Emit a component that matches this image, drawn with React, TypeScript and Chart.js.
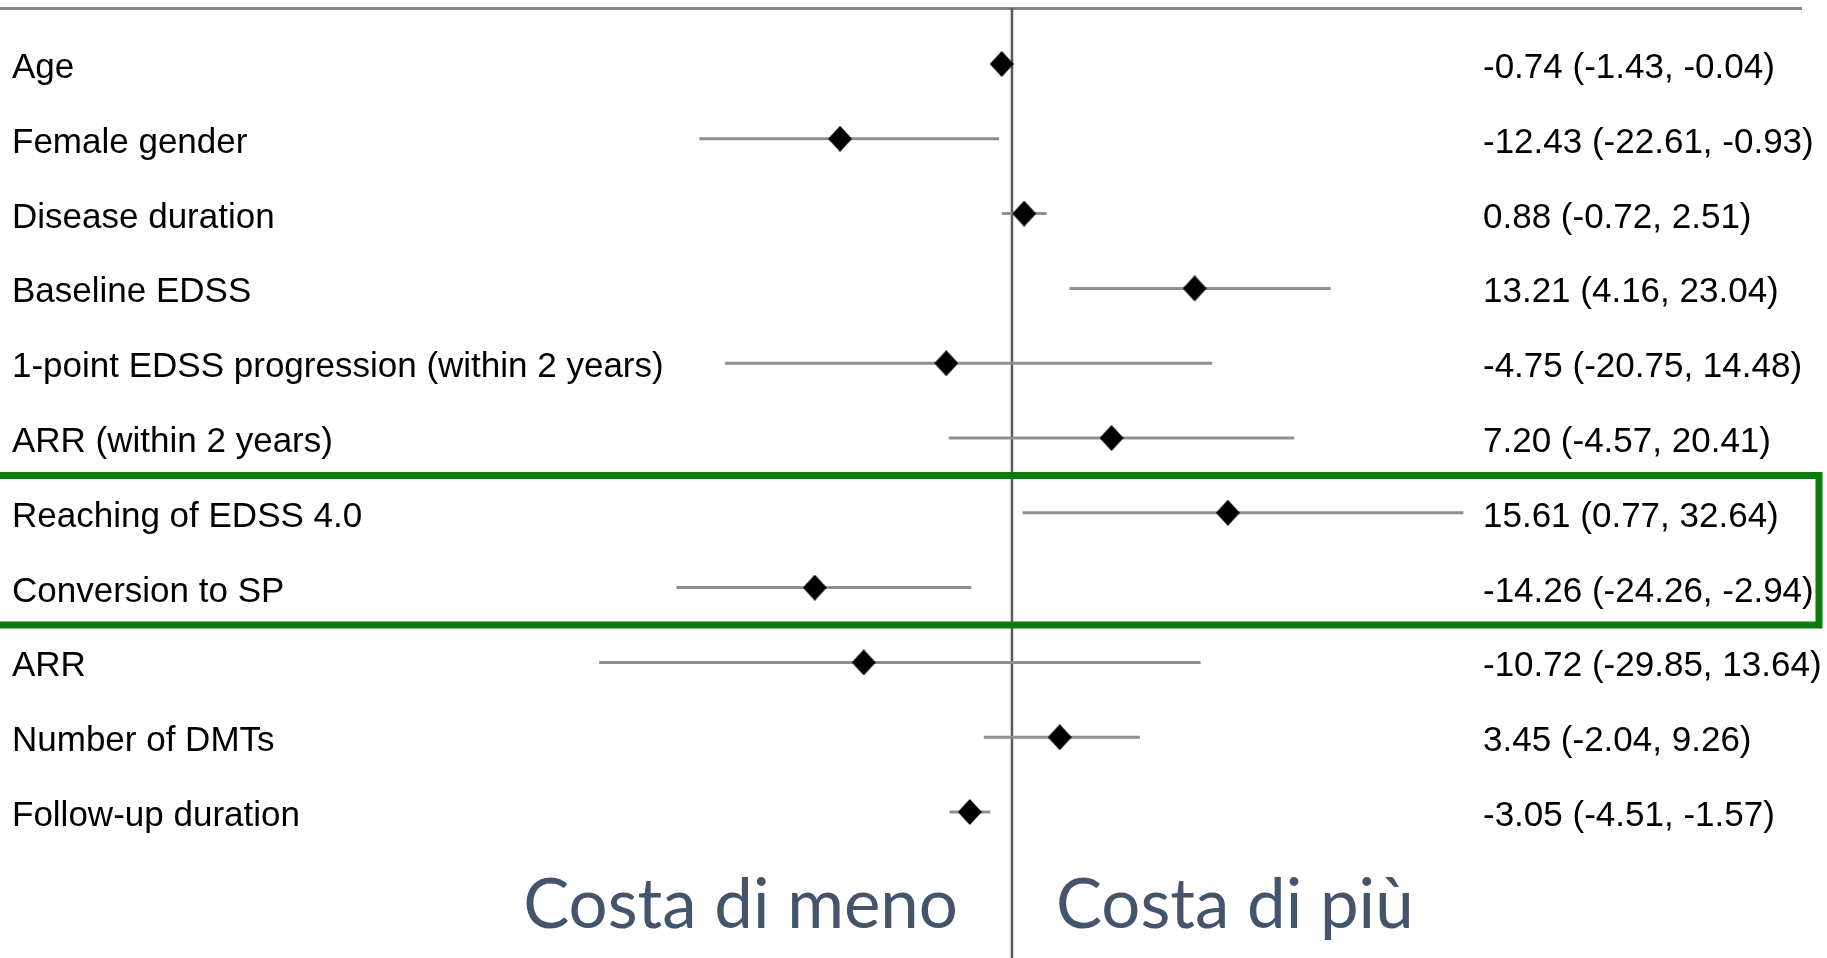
import React, { useEffect, useRef } from "react";
import { Chart, registerables } from "chart.js";

Chart.register(...registerables);

const categories = [
  "Age",
  "Female gender",
  "Disease duration",
  "Baseline EDSS",
  "1-point EDSS progression (within 2 years)",
  "ARR (within 2 years)",
  "Reaching of EDSS 4.0",
  "Conversion to SP",
  "ARR",
  "Number of DMTs",
  "Follow-up duration",
];
const estimates = [-0.74, -12.43, 0.88, 13.21, -4.75, 7.2, 15.61, -14.26, -10.72, 3.45, -3.05];
const lower = [-1.43, -22.61, -0.72, 4.16, -20.75, -4.57, 0.77, -24.26, -29.85, -2.04, -4.51];
const upper = [-0.04, -0.93, 2.51, 23.04, 14.48, 20.41, 32.64, -2.94, 13.64, 9.26, -1.57];
const highlighted = ["Reaching of EDSS 4.0", "Conversion to SP"];
const sideLabels = ["Costa di meno", "Costa di più"];

const W = 1827;
const H = 958;

function makeDiamond(w: number, h: number) {
  const c = document.createElement("canvas");
  c.width = w;
  c.height = h;
  const ctx = c.getContext("2d")!;
  ctx.fillStyle = "#000";
  ctx.beginPath();
  ctx.moveTo(w / 2, 0);
  ctx.lineTo(w, h / 2);
  ctx.lineTo(w / 2, h);
  ctx.lineTo(0, h / 2);
  ctx.closePath();
  ctx.fill();
  return c;
}

const fmt = (v: number) => v.toFixed(2);

export default function App() {
  const ref = useRef<HTMLCanvasElement>(null);

  useEffect(() => {
    const canvas = ref.current!;
    const diamond = makeDiamond(24, 26);

    const ciDatasets = categories.map((c, i) => ({
      type: "scatter" as const,
      label: c + " CI",
      data: [
        { x: lower[i], y: i },
        { x: upper[i], y: i },
      ],
      showLine: true,
      borderColor: "#8f8f8f",
      borderWidth: 3,
      pointRadius: 0,
      order: 2,
    }));

    const overlay = {
      id: "forestOverlay",
      beforeDatasetsDraw(chart: any) {
        const { ctx, scales } = chart;
        const x0 = scales.x.getPixelForValue(0);
        ctx.save();
        // top rule
        ctx.strokeStyle = "#858585";
        ctx.lineWidth = 3;
        ctx.beginPath();
        ctx.moveTo(0, 8.5);
        ctx.lineTo(1802, 8.5);
        ctx.stroke();
        // zero line
        ctx.strokeStyle = "#5a5a5a";
        ctx.lineWidth = 2.5;
        ctx.beginPath();
        ctx.moveTo(x0, 8);
        ctx.lineTo(x0, H);
        ctx.stroke();
        ctx.restore();
      },
      afterDatasetsDraw(chart: any) {
        const { ctx, scales } = chart;
        const x0 = scales.x.getPixelForValue(0);
        ctx.save();
        // labels and values
        ctx.fillStyle = "#000";
        ctx.font = '35px "Liberation Sans", Arial, sans-serif';
        ctx.textBaseline = "alphabetic";
        categories.forEach((c, i) => {
          const y = scales.y.getPixelForValue(i) + 14;
          ctx.textAlign = "left";
          ctx.fillText(c, 12, y);
          ctx.fillText(`${fmt(estimates[i])} (${fmt(lower[i])}, ${fmt(upper[i])})`, 1483, y);
        });
        // highlight box (open on the left)
        const idx = highlighted.map((h) => categories.indexOf(h));
        const top = scales.y.getPixelForValue(Math.min(...idx) - 0.5);
        const bot = scales.y.getPixelForValue(Math.max(...idx) + 0.5);
        ctx.strokeStyle = "#0a7d0a";
        ctx.lineWidth = 7;
        ctx.lineJoin = "miter";
        ctx.beginPath();
        ctx.moveTo(0, top);
        ctx.lineTo(1819, top);
        ctx.lineTo(1819, bot);
        ctx.lineTo(0, bot);
        ctx.stroke();
        // side labels
        ctx.fillStyle = "#44546A";
        ctx.font = '69px Lato, "Open Sans", sans-serif';
        ctx.textAlign = "right";
        ctx.fillText(sideLabels[0], x0 - 54, 928);
        ctx.textAlign = "left";
        ctx.fillText(sideLabels[1], x0 + 44, 928);
        ctx.restore();
      },
    };

    const chart = new Chart(canvas, {
      type: "scatter",
      data: {
        datasets: [
          {
            label: "Estimate",
            data: estimates.map((e, i) => ({ x: e, y: i })),
            pointStyle: diamond as any,
            pointRadius: 12,
            order: 0,
          },
          ...ciDatasets,
        ],
      },
      options: {
        responsive: false,
        animation: false,
        devicePixelRatio: 1,
        layout: { padding: 0, autoPadding: false },
        plugins: { legend: { display: false }, tooltip: { enabled: false } },
        scales: {
          x: { type: "linear", display: false, min: -73.17, max: 58.93 },
          y: { type: "linear", display: false, reverse: true, min: -0.8556, max: 11.952 },
        },
      },
      plugins: [overlay],
    });

    if ((document as any).fonts && (document as any).fonts.ready) {
      (document as any).fonts.ready.then(() => chart.draw());
    }

    return () => chart.destroy();
  }, []);

  return (
    <div style={{ position: "absolute", left: 0, top: 0, width: W, height: H, background: "#fff" }}>
      <canvas ref={ref} width={W} height={H} style={{ display: "block" }} />
    </div>
  );
}
